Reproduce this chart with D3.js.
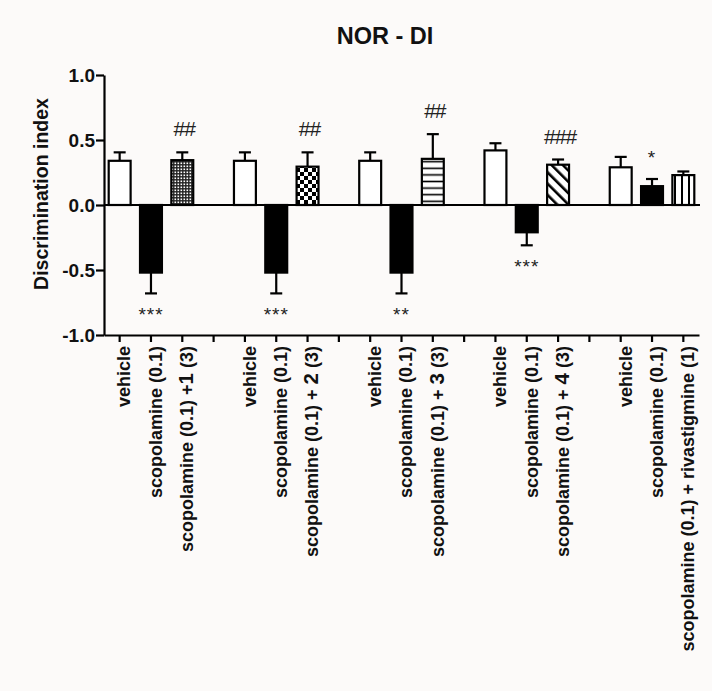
<!DOCTYPE html>
<html>
<head>
<meta charset="utf-8">
<script src="https://cdn.jsdelivr.net/npm/d3@7"></script>
<style>
  html, body { margin: 0; padding: 0; background: #fcfaf9; }
  svg { display: block; font-family: 'Liberation Sans', Arial, sans-serif; }
</style>
</head>
<body>
<svg id="chart"></svg>
<script>
// NOR - DI discrimination index bar chart

const WIDTH = 712;
const HEIGHT = 691;

// Data
const groups = ['1', '2', '3', '4', 'rivastigmine'];
const barLabels = [
    'vehicle', 'scopolamine (0.1)', 'scopolamine (0.1) +',
    'vehicle', 'scopolamine (0.1)', 'scopolamine (0.1) + ',
    'vehicle', 'scopolamine (0.1)', 'scopolamine (0.1) + ',
    'vehicle', 'scopolamine (0.1)', 'scopolamine (0.1) + ',
    'vehicle', 'scopolamine (0.1)', 'scopolamine (0.1) + rivastigmine (1)'
];
const labelNums = ['', '', '1', '', '', '2', '', '', '3', '', '', '4', '', '', ''];
const labelTails = ['', '', ' (3)', '', '', '  (3)', '', '', '  (3)', '', '', '  (3)', '', '', ''];
const means = [0.34, -0.52, 0.345, 0.34, -0.52, 0.295, 0.34, -0.52, 0.355, 0.42, -0.21, 0.31, 0.29, 0.145, 0.23];
const sems = [0.065, 0.16, 0.06, 0.065, 0.16, 0.11, 0.065, 0.16, 0.19, 0.055, 0.1, 0.04, 0.08, 0.055, 0.028];
const fills = ['white', 'black', 'dots', 'white', 'black', 'checker', 'white', 'black', 'hlines', 'white', 'black', 'diag', 'white', 'black', 'vlines'];
const stars = ['', '***', '', '', '***', '', '', '**', '', '', '***', '', '', '*', ''];
const hashes = ['', '', '##', '', '', '##', '', '', '##', '', '', '###', '', '', ''];
const yTicks = [-1.0, -0.5, 0.0, 0.5, 1.0];

const svg = d3.select('#chart')
    .attr('width', WIDTH)
    .attr('height', HEIGHT);

// Patterns
const defs = svg.append('defs');

const dots = defs.append('pattern').attr('id', 'dots')
    .attr('patternUnits', 'userSpaceOnUse').attr('width', 3).attr('height', 3);
dots.append('rect').attr('width', 3).attr('height', 3).attr('fill', '#222');
dots.append('rect').attr('x', 0.5).attr('y', 0.5).attr('width', 1.6).attr('height', 1.6).attr('fill', 'white');

const checker = defs.append('pattern').attr('id', 'checker')
    .attr('patternUnits', 'userSpaceOnUse').attr('width', 8).attr('height', 8);
checker.append('rect').attr('width', 8).attr('height', 8).attr('fill', 'white');
checker.append('rect').attr('width', 4).attr('height', 4).attr('fill', 'black');
checker.append('rect').attr('x', 4).attr('y', 4).attr('width', 4).attr('height', 4).attr('fill', 'black');

const hlines = defs.append('pattern').attr('id', 'hlines')
    .attr('patternUnits', 'userSpaceOnUse').attr('width', 6.6).attr('height', 6.6);
hlines.append('rect').attr('width', 6.6).attr('height', 6.6).attr('fill', 'white');
hlines.append('rect').attr('y', 2.5).attr('width', 6.6).attr('height', 1.6).attr('fill', 'black');

const diag = defs.append('pattern').attr('id', 'diag')
    .attr('patternUnits', 'userSpaceOnUse').attr('width', 8).attr('height', 8)
    .attr('patternTransform', 'rotate(-45)');
diag.append('rect').attr('width', 8).attr('height', 8).attr('fill', 'white');
diag.append('rect').attr('width', 2.6).attr('height', 8).attr('fill', 'black');

const vlines = defs.append('pattern').attr('id', 'vlines')
    .attr('patternUnits', 'userSpaceOnUse').attr('width', 7).attr('height', 7);
vlines.append('rect').attr('width', 7).attr('height', 7).attr('fill', 'white');
vlines.append('rect').attr('x', 2).attr('width', 2).attr('height', 7).attr('fill', 'black');

// Scales: 5 groups of 3 bars, with an empty slot between groups
const slots = d3.range(groups.length * 4 - 1);
const slotOf = i => Math.floor(i / 3) * 4 + (i % 3);

const x = d3.scaleBand()
    .domain(slots)
    .range([104, 699])
    .padding(0);

const y = d3.scaleLinear()
    .domain([-1, 1])
    .range([335, 75]);

const bw = x.bandwidth() * 0.7;
const bars = means.map((m, i) => ({
    mean: m, sem: sems[i], fill: fills[i], stars: stars[i], hashes: hashes[i],
    label: barLabels[i], num: labelNums[i], tail: labelTails[i],
    cx: x(slotOf(i)) + x.bandwidth() / 2
}));

// Zero line
svg.append('line')
    .attr('x1', 104).attr('x2', 700)
    .attr('y1', y(0)).attr('y2', y(0))
    .attr('stroke', 'black').attr('stroke-width', 2.2);

// Error bars
const errG = svg.append('g').attr('stroke', 'black').attr('stroke-width', 2.2);
bars.forEach(d => {
    const end = d.mean >= 0 ? d.mean + d.sem : d.mean - d.sem;
    errG.append('line')
        .attr('x1', d.cx).attr('x2', d.cx)
        .attr('y1', y(d.mean)).attr('y2', y(end));
    errG.append('line')
        .attr('x1', d.cx - 6).attr('x2', d.cx + 6)
        .attr('y1', y(end)).attr('y2', y(end));
});

// Bars
svg.append('g')
    .selectAll('rect')
    .data(bars)
    .join('rect')
    .attr('x', d => d.cx - bw / 2)
    .attr('width', bw)
    .attr('y', d => y(Math.max(0, d.mean)))
    .attr('height', d => Math.abs(y(d.mean) - y(0)))
    .attr('fill', d => (d.fill === 'white' || d.fill === 'black') ? d.fill : `url(#${d.fill})`)
    .attr('stroke', 'black')
    .attr('stroke-width', 2.2);

// Significance marks
svg.append('g')
    .selectAll('text')
    .data(bars.filter(d => d.stars))
    .join('text')
    .attr('x', d => d.cx)
    .attr('y', d => d.mean < 0 ? y(d.mean - d.sem) + 28 : y(d.mean + d.sem) - 15)
    .attr('text-anchor', 'middle')
    .attr('font-size', 19)
    .attr('letter-spacing', 1)
    .attr('fill', '#222')
    .text(d => d.stars);

svg.append('g')
    .selectAll('text')
    .data(bars.filter(d => d.hashes))
    .join('text')
    .attr('x', d => d.cx + 2)
    .attr('y', d => y(d.mean + d.sem) - 16)
    .attr('text-anchor', 'middle')
    .attr('font-size', 21)
    .attr('letter-spacing', -1)
    .attr('fill', '#222')
    .text(d => d.hashes);

// Axes
const fmt = d3.format('.1f');
const yAxis = svg.append('g')
    .attr('transform', 'translate(104,0)')
    .call(d3.axisLeft(y).tickValues(yTicks)
        .tickFormat(d => fmt(d).replace('\u2212', '-'))
        .tickSize(8).tickSizeOuter(0));

const xAxis = svg.append('g')
    .attr('transform', `translate(0,${y(-1)})`)
    .call(d3.axisBottom(x).tickFormat('').tickSize(7).tickSizeOuter(0));

[yAxis, xAxis].forEach(a => {
    a.selectAll('path, line').attr('stroke', 'black').attr('stroke-width', 2.2);
});
yAxis.selectAll('text')
    .attr('font-size', 19)
    .attr('font-weight', 'bold')
    .attr('fill', '#111')
    .attr('x', -9);

// Category labels
const labels = svg.append('g')
    .selectAll('text')
    .data(bars)
    .join('text')
    .attr('transform', d => `translate(${d.cx},346) rotate(-90)`)
    .attr('dy', '0.6em')
    .attr('text-anchor', 'end')
    .attr('font-size', 18)
    .attr('font-weight', 'bold')
    .attr('fill', '#111');

labels.append('tspan').text(d => d.label);
labels.append('tspan').attr('font-weight', 900).attr('font-size', 20.5).text(d => d.num);
labels.append('tspan').text(d => d.tail);

// Titles
svg.append('text')
    .attr('x', 385).attr('y', 44)
    .attr('text-anchor', 'middle')
    .attr('font-size', 23.5)
    .attr('font-weight', 'bold')
    .attr('fill', '#111')
    .text('NOR - DI');

svg.append('text')
    .attr('transform', 'translate(48,194) rotate(-90)')
    .attr('text-anchor', 'middle')
    .attr('font-size', 19.5)
    .attr('font-weight', 'bold')
    .attr('fill', '#111')
    .text('Discrimination index');
</script>
</body>
</html>
